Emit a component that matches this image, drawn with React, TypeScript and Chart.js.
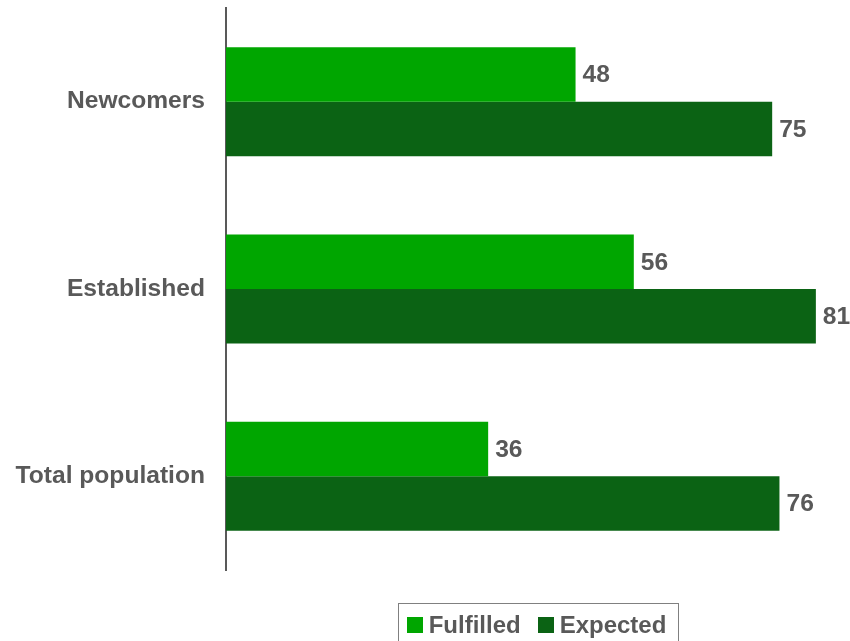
import React, { useEffect, useRef } from "react";
import { Chart, registerables } from "chart.js";

Chart.register(...registerables);

const categories = ["Newcomers", "Established", "Total population"];
const fulfilled = [48, 56, 36];
const expected = [75, 81, 76];
const seriesNames = ["Fulfilled", "Expected"];
const seriesColors = ["#00A600", "#0B6314"];
const xMin = 0;
const xMax = 85;

const FONT = '"Liberation Sans", Arial, sans-serif';
const TEXT = "#595959";
const FS = 24.6;

const valueLabels = {
  id: "valueLabels",
  afterDatasetsDraw(chart: any) {
    const ctx = chart.ctx;
    ctx.save();
    ctx.font = `bold ${FS}px ${FONT}`;
    ctx.fillStyle = TEXT;
    ctx.textAlign = "left";
    ctx.textBaseline = "middle";
    chart.data.datasets.forEach((ds: any, di: number) => {
      const meta = chart.getDatasetMeta(di);
      meta.data.forEach((bar: any, i: number) => {
        ctx.fillText(String(ds.data[i]), bar.x + 7, bar.y + 1);
      });
    });
    ctx.restore();
  },
};

const boxedLegend = {
  id: "boxedLegend",
  afterDraw(chart: any) {
    const ctx = chart.ctx;
    const area = chart.chartArea;
    ctx.save();
    ctx.font = `bold 24px ${FONT}`;
    const box = 16;
    const gapText = 6;
    const gapItem = 17;
    const items = chart.data.datasets.map((ds: any) => ({
      label: ds.label,
      color: ds.backgroundColor,
      w: ctx.measureText(ds.label).width,
    }));
    const total =
      items.reduce((s: number, it: any) => s + box + gapText + it.w, 0) +
      gapItem * (items.length - 1);
    const cx = (area.left + area.right) / 2 + 1;
    let x = cx - total / 2;
    const cy = chart.height - 16;
    const boxTop = chart.height - 38;
    ctx.strokeStyle = "#808080";
    ctx.lineWidth = 1;
    ctx.strokeRect(Math.round(x - 9) + 0.5, boxTop + 0.5, Math.round(total + 20), 60);
    ctx.textAlign = "left";
    ctx.textBaseline = "middle";
    items.forEach((it: any) => {
      ctx.fillStyle = it.color;
      ctx.fillRect(Math.round(x), Math.round(cy - box / 2), box, box);
      x += box + gapText;
      ctx.fillStyle = TEXT;
      ctx.fillText(it.label, x, cy + 1);
      x += it.w + gapItem;
    });
    ctx.restore();
  },
};

export default function App() {
  const ref = useRef<HTMLCanvasElement | null>(null);

  useEffect(() => {
    if (!ref.current) return;
    const chart = new Chart(ref.current, {
      type: "bar",
      data: {
        labels: categories,
        datasets: [
          {
            label: seriesNames[0],
            data: fulfilled,
            backgroundColor: seriesColors[0],
            borderWidth: 0,
            categoryPercentage: 0.582,
            barPercentage: 1,
          },
          {
            label: seriesNames[1],
            data: expected,
            backgroundColor: seriesColors[1],
            borderWidth: 0,
            categoryPercentage: 0.582,
            barPercentage: 1,
          },
        ],
      },
      options: {
        indexAxis: "y",
        responsive: false,
        animation: false,
        layout: { padding: { top: 8, bottom: 71, left: 0, right: 5 } },
        plugins: {
          legend: { display: false },
          tooltip: { enabled: false },
        },
        scales: {
          x: {
            display: false,
            min: xMin,
            max: xMax,
          },
          y: {
            grid: { display: false, drawTicks: false },
            border: { display: true, color: TEXT, width: 2 },
            ticks: {
              color: TEXT,
              padding: 21,
              font: { family: FONT, size: FS, weight: "bold" },
            },
            afterFit(scale: any) {
              scale.width = 226;
              scale.paddingTop = 0;
              scale.paddingBottom = 0;
            },
          },
        },
      },
      plugins: [valueLabels, boxedLegend],
    } as any);
    return () => chart.destroy();
  }, []);

  return (
    <div style={{ position: "absolute", left: 0, top: 0, width: 850, height: 641 }}>
      <canvas ref={ref} width={850} height={641} />
    </div>
  );
}
